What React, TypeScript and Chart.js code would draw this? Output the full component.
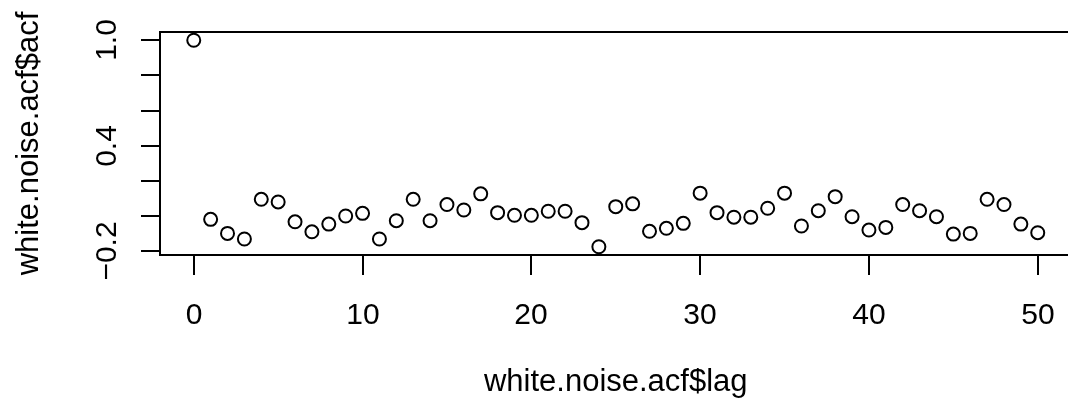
import React, { useEffect, useRef } from "react";
import { Chart, registerables } from "chart.js";

Chart.register(...registerables);

const lags: number[] = Array.from({ length: 51 }, (_, i) => i);
const acfValues: number[] = [
  1.0, -0.019, -0.099, -0.131, 0.095, 0.08, -0.033, -0.09, -0.046, 0.0,
  0.015, -0.131, -0.027, 0.095, -0.027, 0.065, 0.034, 0.126, 0.019, 0.004,
  0.004, 0.027, 0.027, -0.038, -0.175, 0.053, 0.069, -0.087, -0.07, -0.042,
  0.13, 0.019, -0.007, -0.007, 0.044, 0.13, -0.057, 0.03, 0.11, -0.004,
  -0.08, -0.065, 0.065, 0.03, -0.004, -0.103, -0.099, 0.095, 0.065, -0.046,
  -0.095,
];
const xTicks: number[] = [0, 10, 20, 30, 40, 50];
const yTicks: number[] = [-0.2, 0, 0.2, 0.4, 0.6, 0.8, 1.0];
const yTickLabels: string[] = ["\u22120.2", "", "", "0.4", "", "", "1.0"];
const xTitle = "white.noise.acf$lag";
const yTitle = "white.noise.acf$acf";

const FONT = '30px "Liberation Sans", Arial, Helvetica, sans-serif';
const TITLE_FONT = '31px "Liberation Sans", Arial, Helvetica, sans-serif';

const rAxesPlugin = {
  id: "rAxes",
  afterDraw(chart: any) {
    const ctx = chart.ctx;
    const area = chart.chartArea;
    const xs = chart.scales.x;
    const ys = chart.scales.y;
    ctx.save();
    ctx.strokeStyle = "#000";
    ctx.fillStyle = "#000";
    ctx.lineWidth = 2;
    ctx.strokeRect(area.left, area.top, area.right - area.left, area.bottom - area.top);
    ctx.font = FONT;
    // x ticks
    ctx.textAlign = "center";
    ctx.textBaseline = "alphabetic";
    xTicks.forEach((v) => {
      const px = Math.round(xs.getPixelForValue(v));
      ctx.beginPath();
      ctx.moveTo(px, area.bottom);
      ctx.lineTo(px, area.bottom + 20);
      ctx.stroke();
      ctx.fillText(String(v), px, 324);
    });
    // y ticks
    yTicks.forEach((v, i) => {
      const py = Math.round(ys.getPixelForValue(v));
      ctx.beginPath();
      ctx.moveTo(area.left - 19, py);
      ctx.lineTo(area.left, py);
      ctx.stroke();
      const lab = yTickLabels[i];
      if (lab) {
        ctx.save();
        ctx.translate(116, py);
        ctx.rotate(-Math.PI / 2);
        ctx.textAlign = "center";
        ctx.textBaseline = "alphabetic";
        ctx.fillText(lab, 0, 0);
        ctx.restore();
      }
    });
    // titles
    ctx.font = TITLE_FONT;
    const midX = (xs.getPixelForValue(xs.min) + xs.getPixelForValue(xs.max)) / 2;
    ctx.textAlign = "center";
    ctx.fillText(xTitle, midX, 391);
    ctx.save();
    ctx.translate(38, (area.top + area.bottom) / 2);
    ctx.rotate(-Math.PI / 2);
    ctx.textAlign = "center";
    ctx.fillText(yTitle, 0, 0);
    ctx.restore();
    ctx.restore();
  },
};

export default function App() {
  const ref = useRef<HTMLCanvasElement | null>(null);
  useEffect(() => {
    if (!ref.current) return;
    const chart = new Chart(ref.current, {
      type: "scatter",
      data: {
        datasets: [
          {
            data: lags.map((l, i) => ({ x: l, y: acfValues[i] })),
            pointStyle: "circle",
            pointRadius: 6.5,
            pointHoverRadius: 6.5,
            pointBorderWidth: 2,
            pointBorderColor: "#000",
            pointBackgroundColor: "rgba(0,0,0,0)",
            showLine: false,
            clip: false as any,
          },
        ],
      },
      options: {
        responsive: false,
        animation: false,
        events: [],
        layout: { padding: { left: 160, right: 6, top: 32, bottom: 157 } },
        plugins: { legend: { display: false }, tooltip: { enabled: false } },
        scales: {
          x: { type: "linear", min: -2, max: 52, display: false },
          y: { type: "linear", min: -0.222, max: 1.047, display: false },
        },
      },
      plugins: [rAxesPlugin],
    });
    return () => chart.destroy();
  }, []);
  return (
    <div
      style={{
        position: "absolute",
        left: 0,
        top: 0,
        width: 1068,
        height: 412,
        overflow: "hidden",
        background: "#fff",
      }}
    >
      <canvas ref={ref} width={1080} height={412} style={{ display: "block" }} />
    </div>
  );
}
